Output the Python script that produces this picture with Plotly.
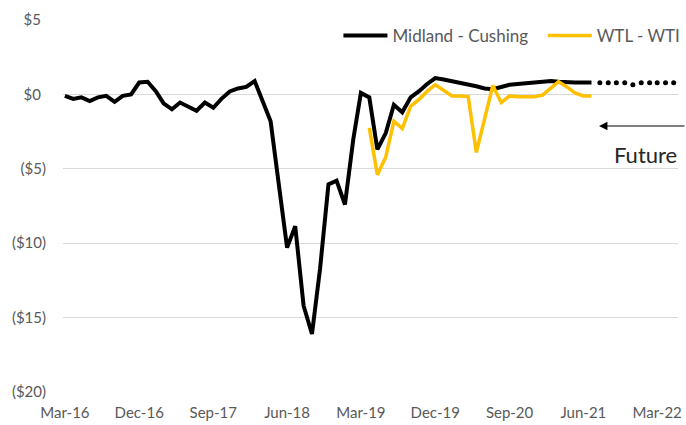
import pandas as pd
import plotly.graph_objects as go

# ---- data ----
midland_cushing = [
    -0.1, -0.3, -0.2, -0.45, -0.2, -0.1, -0.5, -0.1, 0.0, 0.8,
    0.85, 0.2, -0.6, -1.0, -0.55, -0.8, -1.1, -0.55, -0.9, -0.3,
    0.2, 0.4, 0.5, 0.9, -0.4, -1.8, -6.0, -10.3, -8.85, -14.2,
    -16.1, -11.7, -6.05, -5.8, -7.4, -3.0, 0.1, -0.2, -3.7, -2.6,
    -0.7, -1.2, -0.2, 0.2, 0.7, 1.1, 1.0, 0.9, 0.8, 0.65,
    0.55, 0.4, 0.35, 0.5, 0.65, 0.7, 0.75, 0.8, 0.8, 0.9,
    0.85, 0.8, 0.8, 0.8, 0.8,
]
wtl_wti = [
    -2.25, -5.4, -4.2, -1.8, -2.3, -0.8, -0.35, 0.2, 0.65, 0.25,
    -0.1, -0.1, -0.15, -3.9, -1.6, 0.6, -0.55, -0.1, -0.15, -0.15,
    -0.15, -0.05, 0.4, 0.85, 0.5, 0.1, -0.1, -0.1,
]
midland_future = [0.78, 0.78, 0.78, 0.78, 0.65, 0.78, 0.78, 0.78, 0.78, 0.78]

hist_dates = pd.date_range("2016-03-01", periods=len(midland_cushing), freq="MS")
wtl_dates = pd.date_range("2019-04-01", periods=len(wtl_wti), freq="MS")
future_dates = pd.date_range("2021-08-01", periods=len(midland_future), freq="MS")

tick_dates = pd.date_range("2016-03-01", periods=9, freq="9MS")
tick_labels = ["Mar-16", "Dec-16", "Sep-17", "Jun-18", "Mar-19",
               "Dec-19", "Sep-20", "Jun-21", "Mar-22"]
y_ticks = [5, 0, -5, -10, -15, -20]
# positive labels carry a trailing space the width of ")" (accounting format)
y_labels = ["$5\u2004", "$0\u2004", "($5)", "($10)", "($15)", "($20)"]

FONT = "Lato, 'Open Sans', sans-serif"
GREY = "#595959"

fig = go.Figure()
fig.add_trace(go.Scatter(
    x=hist_dates, y=midland_cushing, mode="lines", name="Midland - Cushing",
    line=dict(color="#000000", width=4), legend="legend",
))
fig.add_trace(go.Scatter(
    x=wtl_dates, y=wtl_wti, mode="lines", name="WTL - WTI",
    line=dict(color="#FFC000", width=3.5), legend="legend2",
))
fig.add_trace(go.Scatter(
    x=future_dates, y=midland_future, mode="markers", showlegend=False,
    marker=dict(color="#000000", size=5),
))

W, H = 686, 425
L, R, T, B = 63, 0, 20, 33
plot_w = W - L - R

def px_to_paper_x(px):
    return (px - L) / plot_w

def px_to_paper_y(py):
    return (H - B - py) / (H - T - B)

fig.add_annotation(
    x=px_to_paper_x(606), y=px_to_paper_y(126), xref="paper", yref="paper",
    ax=100, ay=0, text="", showarrow=True,
    arrowhead=2, arrowsize=1.4, arrowwidth=1.2, arrowcolor="#000000",
)
fig.add_annotation(
    x=px_to_paper_x(619), y=px_to_paper_y(154), xref="paper", yref="paper",
    text="Future", showarrow=False, xanchor="left", yanchor="middle",
    font=dict(family=FONT, size=22, color="#262626"),
)

legend_common = dict(
    orientation="h", xanchor="left", yanchor="middle",
    bgcolor="rgba(255,255,255,0)",
    font=dict(family=FONT, size=17, color=GREY),
    itemwidth=44,
)

fig.update_layout(
    width=W, height=H,
    margin=dict(l=L, r=R, t=T, b=B),
    paper_bgcolor="white", plot_bgcolor="white",
    font=dict(family=FONT, size=15, color=GREY),
    showlegend=True,
    legend=dict(x=px_to_paper_x(342), y=px_to_paper_y(36), **legend_common),
    legend2=dict(x=px_to_paper_x(549), y=px_to_paper_y(36), **legend_common),
    xaxis=dict(
        range=["2016-02-23", "2022-05-17"],
        tickvals=tick_dates, ticktext=tick_labels,
        showgrid=False, zeroline=False, showline=False, ticks="",
        ticklabelstandoff=10, ticklabeloverflow="allow",
        tickfont=dict(family=FONT, size=15, color=GREY),
    ),
    yaxis=dict(
        range=[-20, 5], tickvals=y_ticks, ticktext=y_labels,
        showgrid=True, gridcolor="#d9d9d9", gridwidth=1,
        zeroline=False, showline=False, ticks="",
        ticklabelstandoff=16,
        tickfont=dict(family=FONT, size=15, color=GREY),
    ),
)

fig.write_html(
    "out.html",
    config={"displayModeBar": False},
    post_script="document.body.style.margin='0px';",
)
